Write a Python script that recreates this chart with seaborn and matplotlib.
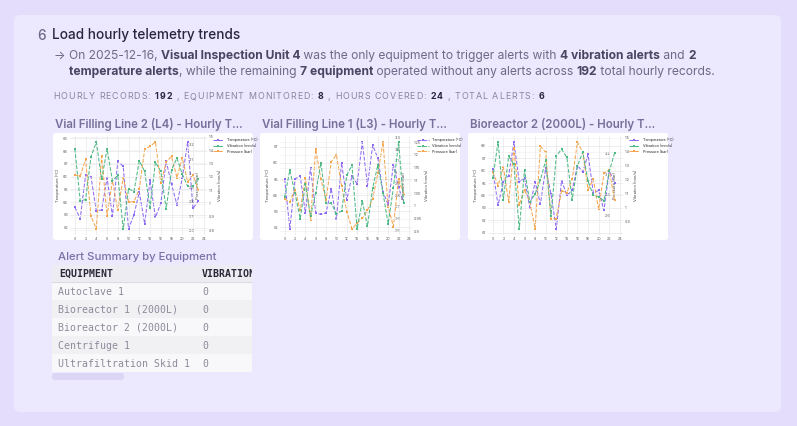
import seaborn as sns
import matplotlib.pyplot as plt
from matplotlib.patches import FancyBboxPatch, Rectangle
from matplotlib.ticker import FuncFormatter

W, H = 797, 426
HOURS = list(range(24))

CHART_TITLES = ["Vial Filling Line 2 (L4) - Hourly T...",
                "Vial Filling Line 1 (L3) - Hourly T...",
                "Bioreactor 2 (2000L) - Hourly T..."]

# hourly readings
TEMP_L4 = [63.6, 62.7, 66.1, 66.0, 63.3, 63.4, 65.9, 62.9, 67.2, 66.8, 61.9, 63.0,
           64.8, 62.3, 65.7, 62.8, 63.9, 67.2, 65.4, 63.8, 65.9, 68.7, 63.5, 64.1]
VIB_L4 = [1.41, 1.02, 1.03, 1.35, 1.46, 1.18, 1.41, 1.17, 1.21, 0.81, 1.11, 1.09,
          1.32, 1.24, 0.97, 1.31, 1.24, 0.96, 1.25, 1.34, 1.22, 1.13, 1.13, 1.18]
PRES_L4 = [2.99, 2.98, 3.10, 2.70, 2.61, 3.12, 2.70, 2.95, 2.74, 2.97, 2.80, 2.80,
           2.89, 3.17, 3.19, 3.22, 2.93, 3.08, 3.12, 2.97, 3.11, 2.94, 2.99, 2.88]

TEMP_L3 = [65.0, 61.9, 65.0, 65.2, 62.9, 65.7, 62.9, 62.8, 62.9, 64.4, 62.5, 66.0,
           63.7, 65.2, 64.7, 67.3, 64.6, 67.1, 66.3, 64.2, 63.4, 65.9, 64.5, 63.5]
VIB_L3 = [1.035, 1.14, 1.05, 0.95, 1.085, 0.96, 1.05, 1.17, 1.01, 1.01, 0.97, 0.98,
          1.12, 1.16, 0.91, 1.02, 0.92, 1.07, 1.16, 1.05, 0.93, 1.07, 1.25, 1.01]
PRES_L3 = [2.77, 2.74, 2.85, 2.67, 2.95, 2.59, 3.20, 2.94, 2.76, 3.09, 3.15, 2.88,
           2.66, 2.51, 2.56, 2.60, 2.67, 2.77, 2.99, 3.26, 2.70, 2.53, 2.94, 2.81]

TEMP_BR2 = [66.1, 63.2, 65.1, 65.6, 68.3, 65.1, 65.4, 63.0, 65.1, 63.3, 66.2, 64.1,
            61.3, 65.2, 64.0, 64.4, 66.4, 65.9, 67.3, 64.2, 64.4, 62.8, 66.0, 65.0]
VIB_BR2 = [1.21, 1.47, 1.06, 1.37, 1.31, 0.85, 1.27, 1.04, 1.10, 1.20, 1.34, 0.94,
           1.37, 1.42, 1.36, 1.06, 1.30, 1.40, 1.19, 1.09, 1.08, 1.05, 1.26, 1.39]
PRES_BR2 = [3.02, 2.89, 3.07, 2.73, 3.25, 2.70, 2.85, 2.73, 2.47, 3.27, 3.21, 2.57,
            2.57, 2.84, 2.82, 2.95, 3.31, 3.21, 2.85, 2.95, 2.66, 3.01, 3.04, 2.75]

EQUIPMENT = ["Autoclave 1", "Bioreactor 1 (2000L)", "Bioreactor 2 (2000L)",
             "Centrifuge 1", "Ultrafiltration Skid 1"]
VIBRATION_ALERTS = [0, 0, 0, 0, 0]

PURPLE, GREEN, ORANGE = "#8E6CF2", "#4DB985", "#F4A64E"
MUTED, DARK = "#6F6A87", "#2A2540"

sns.set_theme(style="white")
plt.rcParams["font.family"] = ["Inter", "DejaVu Sans"]

fig = plt.figure(figsize=(W / 100, H / 100), dpi=100)
fig.patch.set_facecolor("#E4DEFC")
r = fig.canvas.get_renderer()

# page layer in pixel coords
bg = fig.add_axes([0, 0, 1, 1])
bg.set_xlim(0, W)
bg.set_ylim(H, 0)
bg.axis("off")
bg.add_patch(FancyBboxPatch((14, 15), 767, 397, boxstyle="round,pad=0,rounding_size=6",
                            fc="#ECE8FD", ec="none"))


def width(s, **kw):
    t = bg.text(0, 0, s + "|", **kw)
    t2 = bg.text(0, 0, "|", **kw)
    w = t.get_window_extent(r).width - t2.get_window_extent(r).width
    t.remove()
    t2.remove()
    return w


def runs(x, y, parts, size, track=0):
    for s, bold, color in parts:
        kw = dict(fontsize=size, fontweight="bold" if bold else "normal", color=color)
        if track:
            for ch in s:
                bg.text(x, y, ch, va="baseline", ha="left", **kw)
                x += width(ch, **kw) + track
        else:
            bg.text(x, y, s, va="baseline", ha="left", **kw)
            x += width(s, **kw)


bg.text(37, 39.5, "6", fontsize=9.8, color=MUTED, fontweight="medium", va="baseline")
bg.text(52, 39.5, "Load hourly telemetry trends", fontsize=9.8, color=DARK,
        fontweight="medium", va="baseline")

B = "#4B4563"
runs(53, 58.7, [("→", False, MUTED)], 8.7)
runs(69, 58.7, [("On 2025-12-16, ", False, MUTED), ("Visual Inspection Unit 4", True, B),
                (" was the only equipment to trigger alerts with ", False, MUTED),
                ("4 vibration alerts", True, B), (" and ", False, MUTED), ("2", True, B)], 8.7)
runs(69, 74.7, [("temperature alerts", True, B), (", while the remaining ", False, MUTED),
                ("7 equipment", True, B), (" operated without any alerts across ", False, MUTED),
                ("192", True, B), (" total hourly records.", False, MUTED)], 8.7)

G = "#8A85A0"
runs(53, 99, [("HOURLY RECORDS: ", False, G), ("192", True, DARK),
              (" , EQUIPMENT MONITORED: ", False, G), ("8", True, DARK),
              (" , HOURS COVERED: ", False, G), ("24", True, DARK),
              (" , TOTAL ALERTS: ", False, G), ("6", True, DARK)], 6.4, track=1.0)


def px_rect(l, t, rr, b):
    return [l / W, 1 - b / H, (rr - l) / W, (b - t) / H]


fmt = FuncFormatter(lambda v, p: f"{v:g}")
boxes = [53, 260, 468]
plot_lr = [(70, 207), (280, 412), (488, 623)]
series = [(TEMP_L4, VIB_L4, PRES_L4), (TEMP_L3, VIB_L3, PRES_L3), (TEMP_BR2, VIB_BR2, PRES_BR2)]

for i, (temp, vib, pres) in enumerate(series):
    x0 = boxes[i]
    bg.add_patch(FancyBboxPatch((x0, 133), 200, 107, boxstyle="round,pad=0,rounding_size=3",
                                fc="white", ec="none"))
    bg.text(x0 + 2, 127.7, CHART_TITLES[i], fontsize=8.3, fontweight="semibold",
            color="#76709A", va="baseline")

    l, rr = plot_lr[i]
    ax = fig.add_axes(px_rect(l, 136, rr, 235))
    ax.set_facecolor("white")
    axp = ax.twinx()
    axp.spines["right"].set_position(("axes", 0.85))
    axv = ax.twinx()

    lk = dict(marker="s", markersize=1.9, linewidth=0.75, linestyle="--", markeredgewidth=0)
    sns.lineplot(x=HOURS, y=temp, ax=ax, color=PURPLE, label="Temperature (°C)", legend=False, **lk)
    sns.lineplot(x=HOURS, y=vib, ax=axv, color=GREEN, label="Vibration (mm/s)", legend=False, **lk)
    sns.lineplot(x=HOURS, y=pres, ax=axp, color=ORANGE, label="Pressure (bar)", legend=False, **lk)

    ax.set_xlim(-0.9, 24.6)
    ax.set_xticks(range(0, 25, 2))
    for a in (ax, axp, axv):
        a.margins(y=0.07)
        a.yaxis.set_major_formatter(fmt)
        a.tick_params(labelsize=2.7, length=0, pad=1.5, colors="#555555")
        for s in a.spines.values():
            s.set_visible(False)
    ax.grid(True, color="#E4E4EA", lw=0.45)
    axv.grid(True, axis="y", color="#EEEEF2", lw=0.4)
    ax.set_xlabel("")
    ax.set_ylabel("Temperature (°C)", fontsize=2.9, color="#444444", labelpad=2)
    axp.set_ylabel("Pressure (bar)", fontsize=2.9, color="#444444", labelpad=1.5)
    axv.set_ylabel("Vibration (mm/s)", fontsize=2.9, color="#444444", labelpad=2)

    handles = ax.get_lines()[:1] + axv.get_lines()[:1] + axp.get_lines()[:1]
    axv.legend(handles, [h.get_label() for h in handles], loc="upper left",
               bbox_to_anchor=(1.03, 1.0), fontsize=2.7, frameon=False, handlelength=3,
               borderaxespad=0, labelspacing=0.5)

# alert summary table
bg.text(58, 260, "Alert Summary by Equipment", fontsize=8.2, fontweight="medium",
        color="#7B70A8", va="baseline")
tab = fig.add_axes(px_rect(52, 265, 252, 372))
tab.set_xlim(52, 252)
tab.set_ylim(372, 265)
tab.axis("off")
mono = dict(family="DejaVu Sans Mono", fontsize=7.1, va="baseline", clip_on=True)
tab.add_patch(Rectangle((52, 265), 200, 17, fc="#EDECF2", ec="none"))
tab.plot([52, 252], [282, 282], color="#DCDBE4", lw=0.8)
tab.text(59, 277, "EQUIPMENT", fontweight="bold", color="#2B2838", **mono)
tab.text(202, 277, "VIBRATION", fontweight="bold", color="#2B2838", **mono)
for k, (name, n) in enumerate(zip(EQUIPMENT, VIBRATION_ALERTS)):
    y = 282 + 18 * k
    tab.add_patch(Rectangle((52, y), 200, 18, fc="#F8F8FA" if k % 2 == 0 else "#F1F1F4", ec="none"))
    tab.text(58, y + 13, name, color="#8D8A9A", **mono)
    tab.text(202, y + 13, str(n), color="#8D8A9A", **mono)

bg.add_patch(FancyBboxPatch((52, 373), 72, 7, boxstyle="round,pad=0,rounding_size=3.5",
                            fc="#DCD5F3", ec="none"))

fig.savefig("out.png", dpi=100, facecolor=fig.get_facecolor())
